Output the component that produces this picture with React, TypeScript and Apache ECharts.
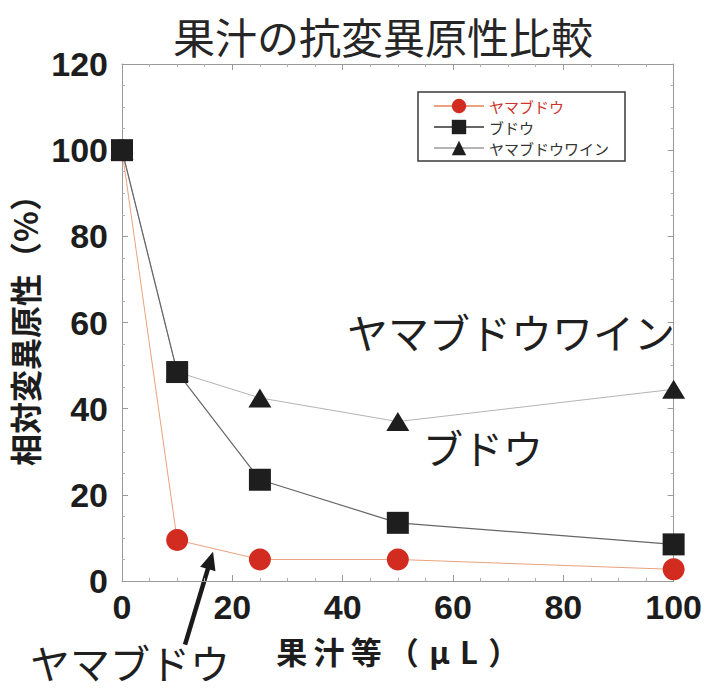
import React, { useEffect, useRef } from "react";
import * as echarts from "echarts";

const xValues = [0, 10, 25, 50, 100];
const yamabudou = [100, 9.5, 5, 5, 2.7];
const budou = [100, 48.5, 23.5, 13.5, 8.5];
const wine = [100, 48.5, 42.5, 37, 44.5];
const seriesNames = ["ヤマブドウ", "ブドウ", "ヤマブドウワイン"];
const xTicks = { min: 0, max: 100, interval: 20 };
const yTicks = { min: 0, max: 120, interval: 20 };

const CJK = "'Noto Sans CJK JP', 'Noto Sans', sans-serif";
const NUM = "'Liberation Sans', Arial, sans-serif";
const TS = "\u2009";
const MS = "\u2004";

const pairs = (ys: number[]) => xValues.map((x, i) => [x, ys[i]]);

export default function App() {
  const ref = useRef<HTMLDivElement>(null);
  useEffect(() => {
    document.body.style.margin = "0";
    const chart = echarts.init(ref.current!, null, { renderer: "svg" });
    const axisLine = { show: true, onZero: false, lineStyle: { color: "#9a9a9a", width: 1 } };
    const tick = { show: true, inside: true, length: 6, lineStyle: { color: "#9a9a9a" } };
    const minor = { show: true, splitNumber: 4, length: 3, lineStyle: { color: "#b0b0b0" } };
    const labelStyle = { fontSize: 34, fontWeight: "bold", color: "#1d1d1d", fontFamily: NUM };
    chart.setOption({
      animation: false,
      backgroundColor: "#ffffff",
      title: {
        text: "果汁の抗変異原性比較",
        left: 378,
        textAlign: "center",
        top: 9,
        textStyle: { fontSize: 42, fontWeight: "normal", color: "#262626", fontFamily: CJK },
      },
      grid: { left: 122, right: 30, top: 64, bottom: 108 },
      legend: {
        data: [
          { name: seriesNames[0], textStyle: { color: "#d0332a" } },
          { name: seriesNames[1] },
          { name: seriesNames[2] },
        ],
        orient: "vertical",
        left: 418,
        top: 92,
        padding: [6, 16, 5, 15],
        itemWidth: 50,
        itemHeight: 18,
        itemGap: 5,
        borderColor: "#3a3a3a",
        borderWidth: 1.5,
        backgroundColor: "#ffffff",
        textStyle: { fontSize: 15, lineHeight: 16, color: "#333333", fontFamily: CJK },
      },
      xAxis: [
        {
          type: "value",
          ...xTicks,
          axisLine,
          axisTick: tick,
          minorTick: minor,
          splitLine: { show: false },
          axisLabel: { ...labelStyle, margin: 9 },
          name: ["果", "汁", "等", "（" + MS + "μ" + MS + "L" + MS + "）"].join(TS),
          nameLocation: "middle",
          nameGap: 54,
          nameTextStyle: { fontSize: 31, fontWeight: "bold", color: "#1d1d1d", fontFamily: CJK },
        },
        {
          type: "value",
          position: "top",
          ...xTicks,
          axisLine,
          axisTick: tick,
          minorTick: minor,
          splitLine: { show: false },
          axisLabel: { show: false },
        },
      ],
      yAxis: [
        {
          type: "value",
          ...yTicks,
          axisLine,
          axisTick: tick,
          minorTick: minor,
          splitLine: { show: false },
          axisLabel: { ...labelStyle, margin: 14 },
          name: "相対変異原性（%）",
          nameLocation: "middle",
          nameRotate: 90,
          nameGap: 78,
          nameTextStyle: { fontSize: 32, fontWeight: "bold", color: "#1d1d1d", fontFamily: CJK },
        },
        {
          type: "value",
          position: "right",
          ...yTicks,
          axisLine,
          axisTick: tick,
          minorTick: minor,
          splitLine: { show: false },
          axisLabel: { show: false },
        },
      ],
      series: [
        {
          name: seriesNames[0],
          type: "line",
          data: pairs(yamabudou),
          symbol: "circle",
          symbolSize: 22,
          z: 2,
          itemStyle: { color: "#d22b20" },
          lineStyle: { color: "#eaa27e", width: 1 },
        },
        {
          name: seriesNames[1],
          type: "line",
          data: pairs(budou),
          symbol: "rect",
          symbolSize: 22,
          z: 4,
          itemStyle: { color: "#1e1e1e" },
          lineStyle: { color: "#666666", width: 1.2 },
        },
        {
          name: seriesNames[2],
          type: "line",
          data: pairs(wine),
          symbol: "triangle",
          symbolSize: [23, 19],
          z: 3,
          itemStyle: { color: "#1e1e1e" },
          lineStyle: { color: "#b4b4b4", width: 1 },
        },
      ],
    });

    const tip = chart.convertToPixel({ gridIndex: 0 }, [16.5, 6.8]) as number[];
    const tail = [tip[0] - 28, tip[1] + 93];
    const dx = tip[0] - tail[0];
    const dy = tip[1] - tail[1];
    const len = Math.sqrt(dx * dx + dy * dy);
    const ux = dx / len;
    const uy = dy / len;
    const headLen = 18;
    const headHalf = 8;
    const base = [tip[0] - ux * headLen, tip[1] - uy * headLen];
    const px = -uy;
    const py = ux;

    const bigText = { fontSize: 40, fontWeight: "normal", fill: "#1f1f1f", fontFamily: CJK };
    chart.setOption({
      graphic: [
        { type: "text", left: 347, top: 310, style: { ...bigText, text: "ヤマブドウワイン", fontSize: 41 } },
        { type: "text", left: 423, top: 427, style: { ...bigText, text: "ブドウ" } },
        { type: "text", left: 30, top: 642, style: { ...bigText, lineHeight: 40, text: "ヤマブドウ" } },
        {
          type: "line",
          shape: { x1: tail[0], y1: tail[1], x2: base[0] + ux * 2, y2: base[1] + uy * 2 },
          style: { stroke: "#1a1a1a", lineWidth: 4.5 },
        },
        {
          type: "polygon",
          shape: {
            points: [
              tip,
              [base[0] + px * headHalf, base[1] + py * headHalf],
              [base[0] - px * headHalf, base[1] - py * headHalf],
            ],
          },
          style: { fill: "#1a1a1a" },
        },
      ],
    });
    return () => chart.dispose();
  }, []);
  return (
    <div
      ref={ref}
      style={{ position: "absolute", left: 0, top: 0, width: 705, height: 689 }}
    />
  );
}
